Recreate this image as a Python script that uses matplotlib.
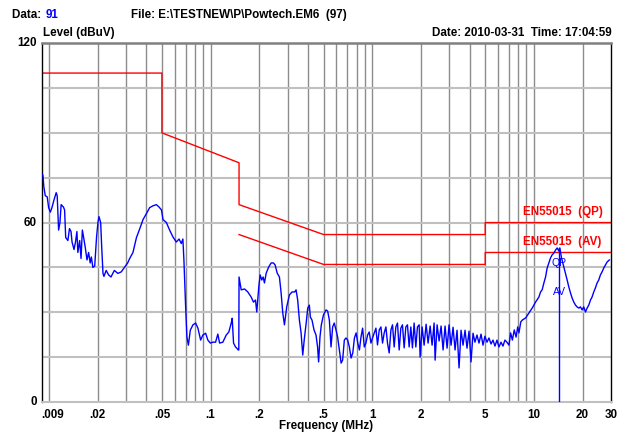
import numpy as np
import matplotlib.pyplot as plt

plt.rcParams['font.family'] = ['Liberation Sans', 'DejaVu Sans']

# measured trace (MHz, dBuV)
freq = [
    0.00905, 0.00918, 0.0093, 0.00949, 0.00976, 0.00996, 0.0102, 0.01044, 0.01074, 0.01109,
    0.01125, 0.01148, 0.0117, 0.0119, 0.0123, 0.0125, 0.0127, 0.0131, 0.0134, 0.0137,
    0.0139, 0.0143, 0.0146, 0.0149, 0.0151, 0.0155, 0.0158, 0.0161, 0.0164, 0.0168,
    0.0172, 0.0176, 0.0180, 0.0183, 0.0187, 0.0192, 0.0197, 0.0201, 0.0204, 0.0209,
    0.0212, 0.0216, 0.0219, 0.0226, 0.0234, 0.0242, 0.0254, 0.0267, 0.0280, 0.0293,
    0.0307, 0.0316, 0.0331, 0.0348, 0.0365, 0.0382, 0.0401, 0.0420, 0.0440, 0.0462,
    0.0480, 0.0497, 0.0508, 0.0533, 0.0558, 0.0585, 0.0614, 0.0638, 0.0659, 0.0674,
    0.0684, 0.0701, 0.0714, 0.0729, 0.0749, 0.0778, 0.0808, 0.0835, 0.0868, 0.0896,
    0.0932, 0.0962, 0.0996, 0.1033, 0.1074, 0.1109, 0.1137, 0.1191, 0.125, 0.1297,
    0.1342, 0.1361, 0.1387, 0.1427, 0.1453, 0.1482, 0.1495, 0.1500, 0.1547, 0.1622,
    0.1699, 0.1783, 0.1843, 0.1896, 0.1931, 0.1987, 0.2026, 0.2073, 0.2114, 0.2154,
    0.2208, 0.2291, 0.2370, 0.2449, 0.2509, 0.2582, 0.2666, 0.2731, 0.2796, 0.2864,
    0.2958, 0.3074, 0.319, 0.3314, 0.338, 0.3458, 0.3543, 0.363, 0.3717, 0.3795,
    0.391, 0.399, 0.4083, 0.4142, 0.424, 0.4365, 0.449, 0.459, 0.466, 0.475,
    0.4844, 0.499, 0.518, 0.530, 0.543, 0.556, 0.569, 0.582, 0.597, 0.611,
    0.626, 0.642, 0.656, 0.672, 0.688, 0.705, 0.722, 0.740, 0.758, 0.776,
    0.795, 0.814, 0.833, 0.852, 0.872, 0.893, 0.914, 0.936, 0.958, 0.982,
    1.004, 1.029, 1.054, 1.078, 1.105, 1.132, 1.158, 1.186, 1.215, 1.243,
    1.273, 1.305, 1.335, 1.367, 1.400, 1.433, 1.468, 1.503, 1.538, 1.576,
    1.614, 1.652, 1.692, 1.733, 1.773, 1.816, 1.861, 1.904, 1.951, 1.978,
    2.035, 2.094, 2.154, 2.216, 2.281, 2.346, 2.414, 2.449, 2.519, 2.592,
    2.666, 2.743, 2.822, 2.904, 2.987, 3.074, 3.162, 3.254, 3.347, 3.444,
    3.543, 3.646, 3.751, 3.858, 3.97, 4.084, 4.202, 4.32, 4.447, 4.575,
    4.71, 4.844, 4.98, 5.127, 5.275, 5.43, 5.584, 5.745, 5.91, 6.08,
    6.26, 6.44, 6.62, 6.81, 7.01, 7.18, 7.36, 7.56, 7.76, 7.94,
    8.08, 8.30, 8.48, 8.89, 9.32, 9.76, 10.24, 10.74, 11.0, 11.25,
    11.53, 11.81, 12.08, 12.38, 12.68, 12.97, 13.29, 13.61, 13.93, 14.27,
    14.47, 14.82, 15.32, 15.69, 16.06, 16.44, 16.84, 17.23, 17.66, 18.09,
    18.51, 18.96, 19.42, 19.87, 20.35, 20.85, 21.34, 21.85, 22.4, 22.9,
    23.46, 24.0, 24.6, 25.19, 25.8, 26.4, 27.05, 27.7, 28.36, 29.3,
]
level = [
    76.0, 75.9, 72.0, 69.0, 68.6, 65.0, 63.5, 65.0, 67.5, 70.0,
    69.0, 57.5, 60.0, 66.0, 65.2, 64.2, 55.0, 54.0, 58.0, 57.0,
    53.5, 51.0, 53.5, 57.0, 50.0, 54.0, 48.0, 57.5, 55.0, 51.5,
    47.5, 50.0, 46.5, 48.5, 45.0, 45.5, 55.0, 60.0, 62.0, 60.0,
    52.0, 43.0, 42.0, 44.0, 42.5, 41.8, 44.0, 43.0, 43.5, 45.0,
    46.5, 48.0, 50.0, 55.0, 58.0, 61.0, 63.0, 65.0, 65.6, 66.0,
    65.2, 64.2, 61.0, 60.0, 57.5, 55.2, 53.5, 54.5, 53.0, 54.5,
    47.5, 31.8, 21.7, 19.0, 24.0, 25.8, 26.4, 24.7, 20.7, 22.4,
    23.0, 20.7, 19.7, 20.0, 20.0, 22.7, 19.7, 20.0, 22.4, 23.4,
    26.4, 28.0, 19.7, 18.4, 18.0, 17.4, 17.4, 41.8, 37.5, 37.8,
    36.8, 35.1, 33.4, 34.1, 30.1, 38.5, 42.5, 40.8, 41.8, 39.8,
    43.1, 45.2, 46.5, 46.5, 45.8, 43.1, 41.8, 36.5, 29.8, 25.8,
    31.8, 35.8, 36.8, 36.8, 37.5, 34.1, 27.4, 23.1, 15.7, 20.7,
    26.8, 31.4, 32.4, 28.4, 27.4, 24.1, 22.4, 18.4, 13.4, 21.7,
    25.8, 29.1, 30.8, 30.4, 27.4, 18.4, 25.1, 26.4, 24.1, 21.7,
    17.4, 13.0, 14.0, 20.7, 21.4, 20.7, 18.4, 14.7, 16.4, 21.4,
    23.1, 19.7, 17.4, 21.7, 24.7, 18.4, 19.7, 22.4, 23.4, 19.7,
    21.4, 23.1, 24.7, 19.1, 24.1, 25.1, 19.7, 23.1, 25.1, 19.7,
    16.4, 24.1, 25.8, 18.4, 25.1, 26.4, 17.4, 24.7, 25.8, 18.1,
    25.1, 25.8, 18.4, 25.1, 18.1, 26.4, 18.4, 25.1, 25.8, 15.0,
    25.1, 19.0, 26.0, 19.7, 25.4, 19.0, 26.4, 14.0, 25.8, 20.4,
    25.4, 17.4, 25.4, 18.0, 25.8, 19.0, 25.0, 17.4, 24.0, 11.4,
    24.0, 19.0, 24.0, 18.0, 23.7, 13.4, 23.0, 20.0, 22.4, 19.7,
    22.7, 19.0, 22.0, 20.0, 21.4, 19.4, 20.7, 18.7, 20.7, 18.4,
    20.0, 18.7, 20.7, 20.0, 19.0, 23.1, 20.7, 24.1, 21.7, 25.1,
    23.1, 26.8, 27.4, 28.1, 29.8, 31.4, 33.4, 35.1, 36.8, 37.5,
    39.8, 41.8, 44.8, 46.5, 48.2, 49.2, 49.8, 50.8, 51.5, 50.5,
    51.5, 48.2, 45.2, 43.1, 40.8, 38.5, 36.5, 34.8, 33.4, 32.4,
    31.8, 31.4, 31.8, 30.8, 31.8, 30.1, 31.4, 32.4, 34.1, 35.1,
    36.8, 38.1, 39.8, 40.8, 42.5, 43.5, 44.8, 45.8, 46.8, 47.5,
]

# EN55015 limits
qp_freq = [0.009, 0.05, 0.05, 0.15, 0.15, 0.5, 5, 5, 30]
qp_level = [110, 110, 90, 80, 66, 56, 56, 60, 60]
av_freq = [0.15, 0.5, 5, 5, 30]
av_level = [56, 46, 46, 50, 50]

marker_freq = 14.3
marker_qp = 51.5
marker_av = 36.8

grid_x = [0.01, 0.02, 0.03, 0.04, 0.05, 0.06, 0.07, 0.08, 0.09,
          0.1, 0.2, 0.3, 0.4, 0.5, 0.6, 0.7, 0.8, 0.9,
          1, 2, 3, 4, 5, 6, 7, 8, 9, 10, 20]
label_x = [0.02, 0.05, 0.1, 0.2, 0.5, 1, 2, 5, 10, 20]
label_x_text = ['.02', '.05', '.1', '.2', '.5', '1', '2', '5', '10', '20']
grid_y = [15, 30, 45, 60, 75, 90, 105]

FS = 8.4

fig = plt.figure(figsize=(6.17, 4.36), dpi=100)
ax = fig.add_axes([0.0673, 0.078, 0.923, 0.823])
ax.set_xscale('log')
ax.set_xlim(0.009, 30)
ax.set_ylim(0, 120)

for g in grid_x:
    ax.axvline(g, color='#8c8c8c', lw=1.0, zorder=1)
for g in grid_y:
    ax.axhline(g, color='#c0c0c0', lw=1.5, zorder=1)

ax.plot(qp_freq, qp_level, color='#ff0000', lw=1.0, zorder=2)
ax.plot(av_freq, av_level, color='#ff0000', lw=1.0, zorder=2)
ax.plot(freq, level, color='#0000ff', lw=1.0, zorder=3)
ax.plot([marker_freq, marker_freq], [0, marker_qp], color='#0000ff', lw=1.0, zorder=3)

ax.text(8.6, 61.5, 'EN55015  (QP)', color='#ff0000', fontsize=FS, fontweight='bold',
        ha='left', va='bottom')
ax.text(8.6, 51.5, 'EN55015  (AV)', color='#ff0000', fontsize=FS, fontweight='bold',
        ha='left', va='bottom')
ax.text(marker_freq, 46.5, 'QP', color='#0000ff', fontsize=7.5, ha='center', va='center')
ax.text(marker_freq, marker_av, 'AV', color='#0000ff', fontsize=7.5, ha='center', va='center')

ax.set_xticks([])
ax.set_yticks([])
ax.minorticks_off()
for v in [0, 60, 120]:
    ax.text(-0.008, v, str(v), transform=ax.get_yaxis_transform(), ha='right', va='center',
            fontsize=FS, fontweight='bold')
ax.text(0.009, -2.5, '.009', ha='left', va='top', fontsize=FS, fontweight='bold')
for f, t in zip(label_x, label_x_text):
    ax.text(f, -2.5, t, ha='center', va='top', fontsize=FS, fontweight='bold')
ax.text(30, -2.5, '30', ha='center', va='top', fontsize=FS, fontweight='bold')

for s in ['left', 'right']:
    ax.spines[s].set_color('black')
    ax.spines[s].set_linewidth(1.0)
ax.spines['top'].set_color('#808080')
ax.spines['top'].set_linewidth(1.8)
ax.spines['bottom'].set_color('#c0c0c0')
ax.spines['bottom'].set_linewidth(1.5)

fig.text(12 / 617, 1 - 15 / 436, 'Data: ', fontsize=FS, fontweight='bold', va='center')
fig.text(46 / 617, 1 - 15 / 436, '91', fontsize=FS, fontweight='bold', va='center', color='#0000ff')
fig.text(131 / 617, 1 - 15 / 436, 'File: E:\\TESTNEW\\P\\Powtech.EM6  (97)', fontsize=FS,
         fontweight='bold', va='center')
fig.text(43 / 617, 1 - 33 / 436, 'Level (dBuV)', fontsize=FS, fontweight='bold', va='center')
fig.text(612 / 617, 1 - 33 / 436, 'Date: 2010-03-31  Time: 17:04:59', fontsize=FS,
         fontweight='bold', va='center', ha='right')
fig.text(326 / 617, 1 - 426 / 436, 'Frequency (MHz)', fontsize=FS, fontweight='bold',
         va='center', ha='center')

fig.savefig('out.png', dpi=100)
